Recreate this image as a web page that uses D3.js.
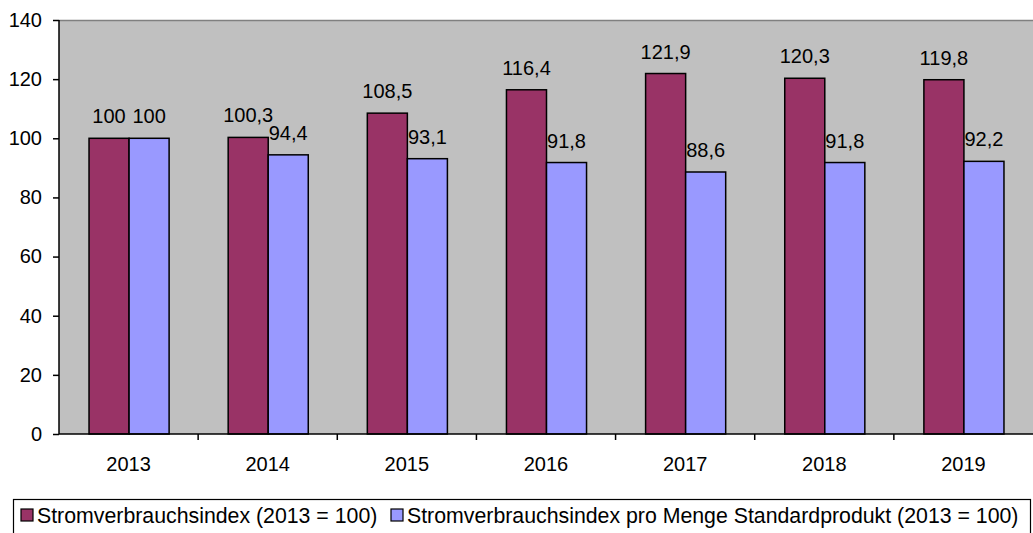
<!DOCTYPE html>
<html>
<head>
<meta charset="utf-8">
<script src="https://cdn.jsdelivr.net/npm/d3@7"></script>
<style>
  body { margin: 0; background: #fff; }
  text { font-family: "Liberation Sans", Arial, sans-serif; fill: #000; }
</style>
</head>
<body>
<svg id="chart" width="1033" height="533"></svg>
<script>
const years = ['2013', '2014', '2015', '2016', '2017', '2018', '2019'];
const stromIndex = [100, 100.3, 108.5, 116.4, 121.9, 120.3, 119.8];
const stromProMenge = [100, 94.4, 93.1, 91.8, 88.6, 91.8, 92.2];
const seriesNames = ['Stromverbrauchsindex (2013 = 100)', 'Stromverbrauchsindex pro Menge Standardprodukt (2013 = 100)'];
const yTicks = [0, 20, 40, 60, 80, 100, 120, 140];

const colors = ['#993366', '#9999ff'];
const plotLeft = 59, plotRight = 1033, plotTop = 20, plotBottom = 434;
const fontSize = 20;

const svg = d3.select('#chart');

const xs = d3.scaleBand().domain(years).range([plotLeft, plotRight]);
const ys = d3.scaleLinear().domain([0, 140]).range([plotBottom, plotTop]);
const fmt = v => String(v).replace('.', ',');

// plot area
svg.append('rect')
  .attr('x', plotLeft).attr('y', plotTop)
  .attr('width', plotRight - plotLeft).attr('height', plotBottom - plotTop)
  .attr('fill', '#c0c0c0');
svg.append('line')
  .attr('x1', plotLeft).attr('x2', plotRight).attr('y1', plotTop + 0.5).attr('y2', plotTop + 0.5)
  .attr('stroke', '#808080').attr('stroke-width', 1.5);

const barW = xs.bandwidth() * 40 / 139;
const offset = xs.bandwidth() * 30 / 139;

const data = years.map((y, i) => ({ year: y, vals: [stromIndex[i], stromProMenge[i]] }));

const groups = svg.selectAll('.year-group').data(data).enter()
  .append('g').attr('class', 'year-group')
  .attr('transform', d => `translate(${xs(d.year) + offset},0)`);

groups.selectAll('rect')
  .data(d => d.vals.map((v, k) => ({ k: k, v: v })))
  .enter().append('rect')
  .attr('x', d => d.k * barW)
  .attr('y', d => ys(d.v))
  .attr('width', barW)
  .attr('height', d => ys(0) - ys(d.v))
  .attr('fill', d => colors[d.k])
  .attr('stroke', '#000')
  .attr('stroke-width', 1.5);

groups.selectAll('text.lbl')
  .data(d => d.vals.map((v, k) => ({ k: k, v: v })))
  .enter().append('text')
  .attr('class', 'lbl')
  .attr('x', d => d.k * barW + barW / 2)
  .attr('y', d => ys(d.v) - 15)
  .attr('text-anchor', 'middle')
  .attr('font-size', fontSize)
  .text(d => fmt(d.v));

// y axis
const yAxis = svg.append('g')
  .attr('transform', `translate(${plotLeft},0)`)
  .call(d3.axisLeft(ys).tickValues(yTicks).tickSize(6).tickPadding(11));
yAxis.selectAll('text').attr('font-size', fontSize).style('font-family', '"Liberation Sans", Arial, sans-serif');
yAxis.selectAll('line, path').attr('stroke', '#000').attr('stroke-width', 1.5);
yAxis.select('path').attr('d', `M0,${plotTop}V${plotBottom}`);

// x axis
const xAxis = svg.append('g')
  .attr('transform', `translate(0,${plotBottom})`)
  .call(d3.axisBottom(xs).tickSize(0).tickPadding(23));
xAxis.selectAll('text').attr('font-size', fontSize).style('font-family', '"Liberation Sans", Arial, sans-serif');
xAxis.select('path').attr('d', `M${plotLeft},0H${plotRight}`).attr('stroke', '#000').attr('stroke-width', 1.5);
svg.append('g').selectAll('line')
  .data(years.slice(1))
  .enter().append('line')
  .attr('x1', d => xs(d)).attr('x2', d => xs(d))
  .attr('y1', plotBottom).attr('y2', plotBottom + 6)
  .attr('stroke', '#000').attr('stroke-width', 1.5);

// legend
svg.append('rect')
  .attr('x', 13.5).attr('y', 499.5).attr('width', 1017).attr('height', 40)
  .attr('fill', 'none').attr('stroke', '#000').attr('stroke-width', 1.2);

const legendX = [21, 391];
const legend = svg.selectAll('.legend').data(seriesNames).enter()
  .append('g').attr('class', 'legend')
  .attr('transform', (d, i) => `translate(${legendX[i]},509)`);
legend.append('rect')
  .attr('width', 12).attr('height', 12)
  .attr('fill', (d, i) => colors[i])
  .attr('stroke', '#000').attr('stroke-width', 1.2);
legend.append('text')
  .attr('x', 16).attr('y', 14)
  .attr('font-size', 21.3)
  .text(d => d);
</script>
</body>
</html>
